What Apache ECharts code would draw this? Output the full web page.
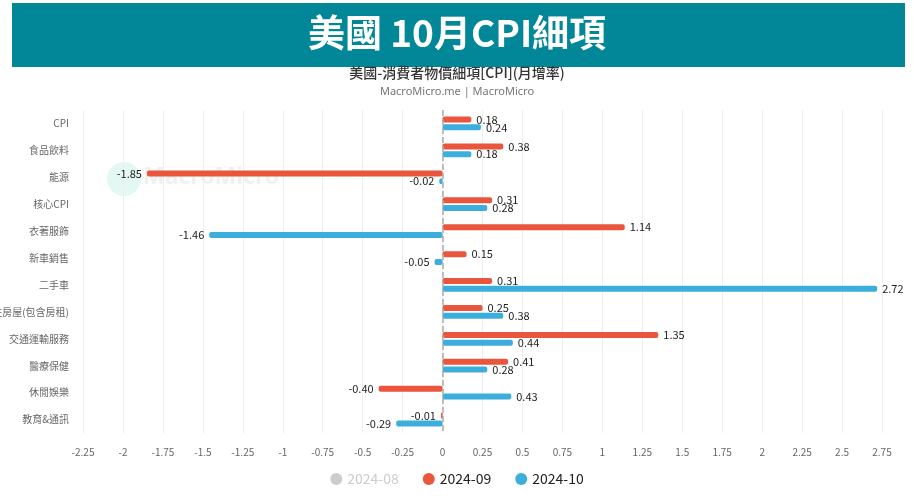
<!DOCTYPE html>
<html><head><meta charset="utf-8">
<script src="https://cdn.jsdelivr.net/npm/echarts@6/dist/echarts.min.js"></script>
<style>html,body{margin:0;padding:0;background:#fff}#c{width:914px;height:496px}</style>
</head><body><div id="c"></div>
<script>
const categories = ['CPI','食品飲料','能源','核心CPI','衣著服飾','新車銷售','二手車','住房屋(包含房租)','交通運輸服務','醫療保健','休閒娛樂','教育&通訊'];
const s2408 = [0.19, 0.09, -0.78, 0.28, 0.34, 0.00, -1.04, 0.50, 0.92, -0.08, 0.10, 0.01];
const s2409 = [0.18, 0.38, -1.85, 0.31, 1.14, 0.15, 0.31, 0.25, 1.35, 0.41, -0.40, -0.01];
const s2410 = [0.24, 0.18, -0.02, 0.28, -1.46, -0.05, 2.72, 0.38, 0.44, 0.28, 0.43, -0.29];
const seriesNames = ['2024-08','2024-09','2024-10'];
const colors = ['#cccccc','#e9553d','#3caedb'];

const FONT = '"Noto Sans CJK TC","Noto Sans",sans-serif';
function items(arr){
  return arr.map(v => ({value: v, label: {position: v < 0 ? 'left' : 'right'}}));
}
const chart = echarts.init(document.getElementById('c'));
const dataSets = [s2408, s2409, s2410];
chart.setOption({
  animation: false,
  textStyle: {fontFamily: FONT},
  graphic: [
    {type:'rect', left:12, top:3, shape:{width:893, height:64}, style:{fill:'#028798'}, z:0},
    {type:'text', left:'center', top:14, style:{text:'美國 10月CPI細項', fill:'#fff', font:'bold 37px "Noto Sans CJK TC", sans-serif'}},
    {type:'text', left:'center', top:66, style:{text:'美國-消費者物價細項[CPI](月增率)', fill:'#333', font:'500 14px "Noto Sans CJK TC", sans-serif'}},
    {type:'text', left:'center', top:86, style:{text:'MacroMicro.me | MacroMicro', fill:'#777', font:'11px "Noto Sans", sans-serif'}},
    {type:'circle', shape:{cx:124, cy:179, r:17}, style:{fill:'rgba(40,190,160,0.13)'}, z:0},
    {type:'text', left:143, top:166, style:{text:'MacroMicro', fill:'rgba(0,0,0,0.06)', font:'bold 23px "Noto Sans", sans-serif'}, z:0}
  ],
  color: colors,
  legend: {
    bottom: 5, left: 'center', icon: 'circle', itemWidth: 12, itemHeight: 12, itemGap: 24,
    data: seriesNames,
    selected: {'2024-08': false},
    textStyle: {fontSize: 14, color: '#222'},
    inactiveColor: '#ccc'
  },
  grid: {left: 83, right: 32, top: 110, bottom: 63, containLabel: false, outerBoundsMode: 'none'},
  xAxis: {
    type: 'value', min: -2.25, max: 2.75, interval: 0.25,
    axisLine: {show: false}, axisTick: {show: false},
    axisLabel: {fontSize: 10, color: '#666', margin: 14},
    splitLine: {lineStyle: {color: '#eeeeee'}}
  },
  yAxis: {
    type: 'category', data: categories, inverse: true,
    axisLine: {show: false}, axisTick: {show: false},
    axisLabel: {fontSize: 10, color: '#666', margin: 14},
    splitLine: {show: false}
  },
  series: seriesNames.map((n, i) => ({
    name: n, type: 'bar', data: items(dataSets[i]),
    barWidth: 6, barGap: '30%',
    itemStyle: {color: colors[i], borderRadius: 2},
    label: {show: true, fontSize: 11, color: '#222', distance: 5, formatter: p => p.value.toFixed(2)},
    markLine: i === 1 ? {
      silent: true, symbol: 'none', label: {show: false},
      lineStyle: {color: '#aaa', type: 'dashed', width: 1.5},
      data: [{xAxis: 0}]
    } : undefined
  }))
});
</script></body></html>
